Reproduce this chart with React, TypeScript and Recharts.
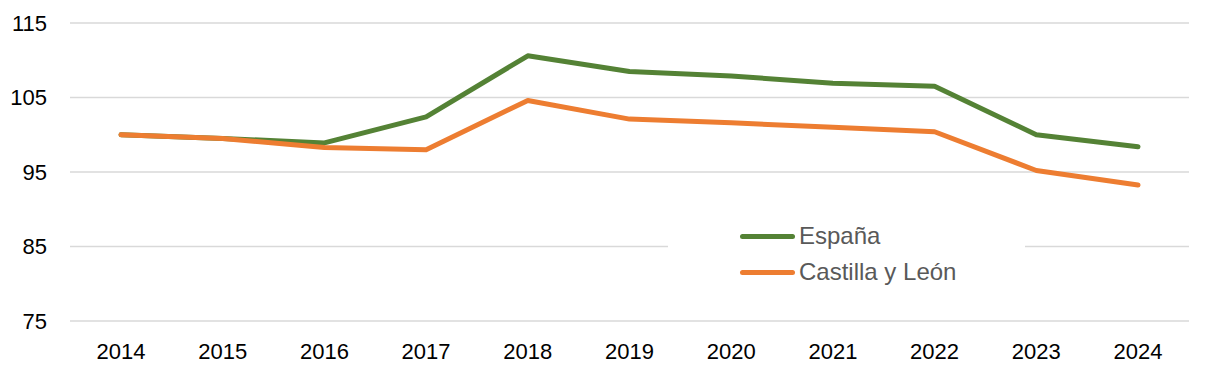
import React from 'react'
import { LineChart, Line, XAxis, YAxis, CartesianGrid, Legend } from 'recharts'

const years = ['2014', '2015', '2016', '2017', '2018', '2019', '2020', '2021', '2022', '2023', '2024']
const espana = [100, 99.5, 98.9, 102.4, 110.6, 108.5, 107.9, 106.9, 106.5, 100.0, 98.4]
const castilla = [100, 99.5, 98.3, 98.0, 104.6, 102.1, 101.6, 101.0, 100.4, 95.2, 93.25]
const yTicks = [75, 85, 95, 105, 115]

const seriesNames = { espana: 'España', castilla: 'Castilla y León' }
const seriesOrder = [seriesNames.espana, seriesNames.castilla]
const colors = { espana: '#548235', castilla: '#ED7D31' }

const data = years.map((year, i) => ({ year, espana: espana[i], castilla: castilla[i] }))

const FONT = '"Liberation Sans", Arial, sans-serif'

function LegendBox({ payload }: any) {
  const items = [...(payload ?? [])].sort(
    (a: any, b: any) => seriesOrder.indexOf(a.value) - seriesOrder.indexOf(b.value),
  )
  return (
    <div style={{ background: '#fff', height: 72, paddingLeft: 72, boxSizing: 'border-box' }}>
      {items.map((p: any) => (
        <div key={p.value} style={{ display: 'flex', alignItems: 'center', height: 36 }}>
          <span
            style={{
              display: 'inline-block',
              width: 55,
              height: 5,
              borderRadius: 3,
              background: p.color,
              marginRight: 4,
            }}
          />
          <span style={{ fontFamily: FONT, fontSize: 24, color: '#595959', lineHeight: '36px' }}>{p.value}</span>
        </div>
      ))}
    </div>
  )
}

export default function App() {
  return (
    <div style={{ position: 'absolute', left: 0, top: 0, background: '#fff' }}>
      <LineChart
        width={1210}
        height={386}
        data={data}
        margin={{ top: 23, right: 21, bottom: 0, left: 0 }}
        style={{ fontFamily: FONT }}
      >
        <CartesianGrid vertical={false} stroke="#D9D9D9" strokeWidth={1.5} />
        <XAxis
          dataKey="year"
          height={65}
          padding={{ left: 51, right: 51 }}
          axisLine={false}
          tickLine={false}
          tickSize={0}
          tickMargin={22}
          tick={{ fill: '#000', fontSize: 22 }}
          interval={0}
        />
        <YAxis
          width={70}
          domain={[75, 115]}
          ticks={yTicks}
          axisLine={false}
          tickLine={false}
          tickSize={0}
          tickMargin={23}
          tick={{ fill: '#000', fontSize: 22 }}
        />
        <Legend
          layout="vertical"
          align="center"
          verticalAlign="middle"
          wrapperStyle={{ left: 668, top: 218, width: 357 }}
          content={<LegendBox />}
        />
        <Line
          type="linear"
          dataKey="espana"
          name={seriesNames.espana}
          stroke={colors.espana}
          strokeWidth={5}
          strokeLinecap="round"
          strokeLinejoin="round"
          dot={false}
          activeDot={false}
          isAnimationActive={false}
        />
        <Line
          type="linear"
          dataKey="castilla"
          name={seriesNames.castilla}
          stroke={colors.castilla}
          strokeWidth={5}
          strokeLinecap="round"
          strokeLinejoin="round"
          dot={false}
          activeDot={false}
          isAnimationActive={false}
        />
      </LineChart>
    </div>
  )
}
